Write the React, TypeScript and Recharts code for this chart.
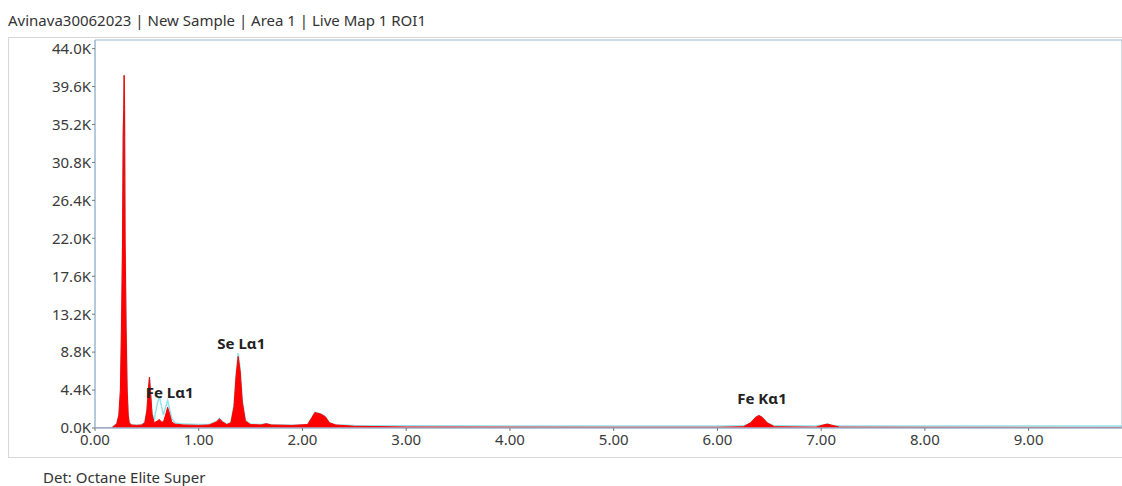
import {
  ComposedChart,
  Area,
  XAxis,
  YAxis,
  ReferenceArea,
  ReferenceDot,
} from "recharts";

// energy channels (keV) and counts for the two overlaid spectra
const energies = [
  0.0, 0.1, 0.16, 0.19, 0.21, 0.23, 0.245, 0.255, 0.265, 0.272, 0.277, 0.281,
  0.285, 0.29, 0.3, 0.31, 0.32, 0.33, 0.35, 0.4, 0.45, 0.48, 0.5, 0.515, 0.525,
  0.535, 0.55, 0.57, 0.6, 0.62, 0.64, 0.66, 0.68, 0.7, 0.72, 0.74, 0.77, 0.85,
  1.0, 1.1, 1.17, 1.2, 1.23, 1.27, 1.31, 1.34, 1.36, 1.38, 1.4, 1.42, 1.45, 1.5,
  1.6, 1.65, 1.7, 1.9, 2.05, 2.09, 2.12, 2.15, 2.18, 2.22, 2.26, 2.32, 2.5, 3.0,
  4.0, 5.0, 6.0, 6.25, 6.32, 6.37, 6.4, 6.43, 6.48, 6.55, 6.95, 7.02, 7.06, 7.1,
  7.18, 8.0, 9.0, 9.9,
];

const roiCounts = [
  0, 0, 0, 300, 500, 1500, 4400, 11400, 21000, 34300, 36900, 40900,
  36900, 22000, 11400, 4400, 1500, 600, 350, 300, 350, 600, 2000, 4500, 5900,
  4200, 1600, 600, 800, 1000, 700, 700, 1500, 2400, 1600, 700, 450, 350,
  300, 350, 700, 1050, 700, 400, 600, 2500, 6000, 8300, 6500, 3000, 800, 400,
  350, 500, 350, 300, 400, 1200, 1800, 1700, 1600, 1300, 600, 350, 200, 120,
  100, 90, 90, 150, 600, 1250, 1450, 1250, 600, 150, 100, 350, 450, 330,
  100, 80, 70, 60,
];

const refCounts = [
  0, 0, 50, 300, 500, 1500, 4400, 11400, 21000, 34300, 36900, 40900,
  36900, 22000, 11400, 4400, 1500, 600, 380, 350, 380, 650, 2000, 4500, 5900,
  4200, 1700, 900, 2800, 3700, 2600, 1500, 2400, 3200, 2200, 1100, 600, 450,
  400, 400, 750, 1100, 750, 450, 650, 2700, 6300, 8700, 6800, 3200, 850, 450,
  400, 500, 380, 330, 420, 1200, 1800, 1700, 1600, 1300, 600, 380, 300, 260,
  240, 230, 230, 250, 600, 1250, 1450, 1250, 600, 250, 230, 350, 450, 330,
  240, 220, 220, 220,
];

const xTicks = [0, 1, 2, 3, 4, 5, 6, 7, 8, 9];
const yTicks = [0, 4400, 8800, 13200, 17600, 22000, 26400, 30800, 35200, 39600, 44000];

// peak identifications: [label, energy, label centre height]
const peakLabels: [string, number, number][] = [
  ["Fe Lα1", 0.72, 4050],
  ["Se Lα1", 1.41, 9750],
  ["Fe Kα1", 6.43, 3360],
];

const spectrum = energies.map((e, i) => ({
  energy: e,
  roi: roiCounts[i],
  ref: refCounts[i],
}));

const font = '"Segoe UI", "Noto Sans", "Open Sans", sans-serif';
const frame = "#9ab6cf";
const tickStyle = { fill: "#3a3a3a", fontSize: 15, fontFamily: font };

export default function App() {
  return (
    <div
      style={{
        position: "fixed",
        left: 0,
        top: 0,
        width: 1122,
        height: 486,
        overflow: "hidden",
        background: "#fff",
        fontFamily: font,
      }}
    >
      <div style={{ position: "absolute", left: 8, top: 9, fontSize: 15, lineHeight: "22px", color: "#333" }}>
        Avinava30062023 | New Sample | Area 1 | Live Map 1 ROI1
      </div>
      <div
        style={{
          position: "absolute",
          left: 8,
          top: 37,
          width: 1130,
          height: 419,
          border: "1px solid #d8d8d8",
        }}
      >
        <ComposedChart
          width={1113}
          height={419}
          data={spectrum}
          margin={{ top: 2, right: 0, bottom: 0, left: 26 }}
        >
          <XAxis
            dataKey="energy"
            type="number"
            domain={[0, 9.9]}
            allowDataOverflow
            ticks={xTicks}
            tickFormatter={(v: number) => v.toFixed(2)}
            tick={tickStyle}
            tickSize={3}
            tickMargin={3}
            height={29}
            axisLine={{ stroke: frame }}
            tickLine={{ stroke: "#777" }}
          />
          <YAxis
            type="number"
            domain={[0, 45000]}
            allowDataOverflow
            ticks={yTicks}
            tickFormatter={(v: number) => (v / 1000).toFixed(1) + "K"}
            tick={tickStyle}
            tickSize={3}
            tickMargin={1}
            width={60}
            axisLine={{ stroke: frame }}
            tickLine={{ stroke: "#777" }}
          />
          {/* reference spectrum outline sits beneath the filled ROI spectrum */}
          <Area
            dataKey="ref"
            type="linear"
            stroke="#8fe3ec"
            strokeWidth={1.5}
            fill="none"
            isAnimationActive={false}
          />
          <Area
            dataKey="roi"
            type="linear"
            stroke="#ff0000"
            strokeWidth={1}
            fill="#ff0000"
            fillOpacity={1}
            isAnimationActive={false}
          />
          <ReferenceArea
            x1={0}
            x2={9.9}
            y1={0}
            y2={45000}
            fill="none"
            stroke={frame}
            strokeWidth={1}
            ifOverflow="visible"
          />
          {peakLabels.map(([name, e, h]) => (
            <ReferenceDot
              key={name}
              x={e}
              y={h}
              r={0}
              fill="none"
              stroke="none"
              ifOverflow="visible"
              label={{
                value: name,
                position: "center",
                fill: "#222",
                fontSize: 15,
                fontWeight: 700,
                fontFamily: font,
              }}
            />
          ))}
        </ComposedChart>
      </div>
      <div style={{ position: "absolute", left: 43, top: 468, fontSize: 15, lineHeight: "18px", color: "#333" }}>
        Det: Octane Elite Super
      </div>
    </div>
  );
}
